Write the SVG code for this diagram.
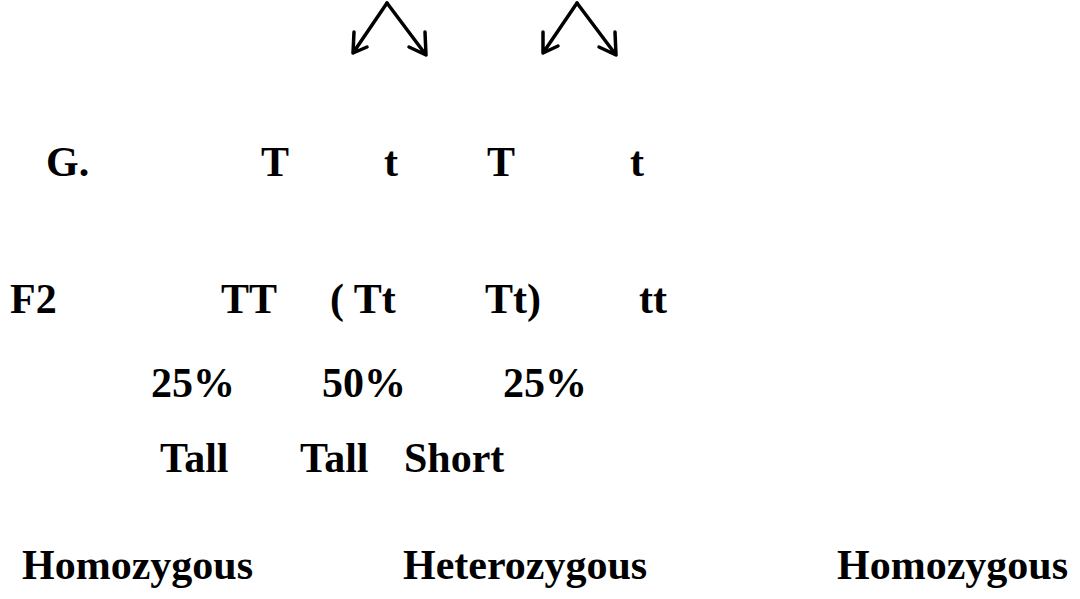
<svg xmlns="http://www.w3.org/2000/svg" width="1080" height="599" viewBox="0 0 1080 599">
  <style>
    .lbl { font-family: "Liberation Serif", "Times New Roman", serif; font-weight: bold; font-size: 42px; fill: #000; }
    .arrow { fill: none; stroke: #000; stroke-width: 3.5; stroke-linecap: round; stroke-linejoin: round; }
  </style>
  <rect width="1080" height="599" fill="#fff"/>

  <!-- gamete split arrows -->
  <g id="connectors">
    <path class="arrow" d="M387 3 L353 53 M354 32 L353 53 L367 47"/>
    <path class="arrow" d="M387 3 L426 55 M425 32 L426 55 L409 47"/>
    <path class="arrow" d="M577 3 L543 53 M543 32 L543 53 L558 46"/>
    <path class="arrow" d="M577 3 L616 55 M615 32 L616 55 L599 47"/>
  </g>

  <!-- gametes -->
  <g id="gametes-label"><text class="lbl" x="46" y="176">G.</text></g>
  <g id="gamete-1"><text class="lbl" x="261" y="176">T</text></g>
  <g id="gamete-2"><text class="lbl" x="384" y="176">t</text></g>
  <g id="gamete-3"><text class="lbl" x="487" y="176">T</text></g>
  <g id="gamete-4"><text class="lbl" x="630" y="176">t</text></g>

  <!-- F2 genotypes -->
  <g id="f2-label"><text class="lbl" x="10" y="313">F2</text></g>
  <g id="genotype-TT"><text class="lbl" x="221" y="313">TT</text></g>
  <g id="genotype-Tt-1"><text class="lbl" x="330" y="313" xml:space="preserve">( Tt</text></g>
  <g id="genotype-Tt-2"><text class="lbl" x="485" y="313">Tt)</text></g>
  <g id="genotype-tt"><text class="lbl" x="639" y="313">tt</text></g>

  <!-- ratios -->
  <g id="ratio-1"><text class="lbl" x="151" y="397">25%</text></g>
  <g id="ratio-2"><text class="lbl" x="322" y="397">50%</text></g>
  <g id="ratio-3"><text class="lbl" x="503" y="397">25%</text></g>

  <!-- phenotypes -->
  <g id="phenotype-1"><text class="lbl" x="160" y="472">Tall</text></g>
  <g id="phenotype-2"><text class="lbl" x="300" y="472">Tall</text></g>
  <g id="phenotype-3"><text class="lbl" x="404" y="472">Short</text></g>

  <!-- zygosity -->
  <g id="zygosity-1"><text class="lbl" x="22" y="579">Homozygous</text></g>
  <g id="zygosity-2"><text class="lbl" x="403" y="579">Heterozygous</text></g>
  <g id="zygosity-3"><text class="lbl" x="1068" y="579" text-anchor="end">Homozygous</text></g>
</svg>
